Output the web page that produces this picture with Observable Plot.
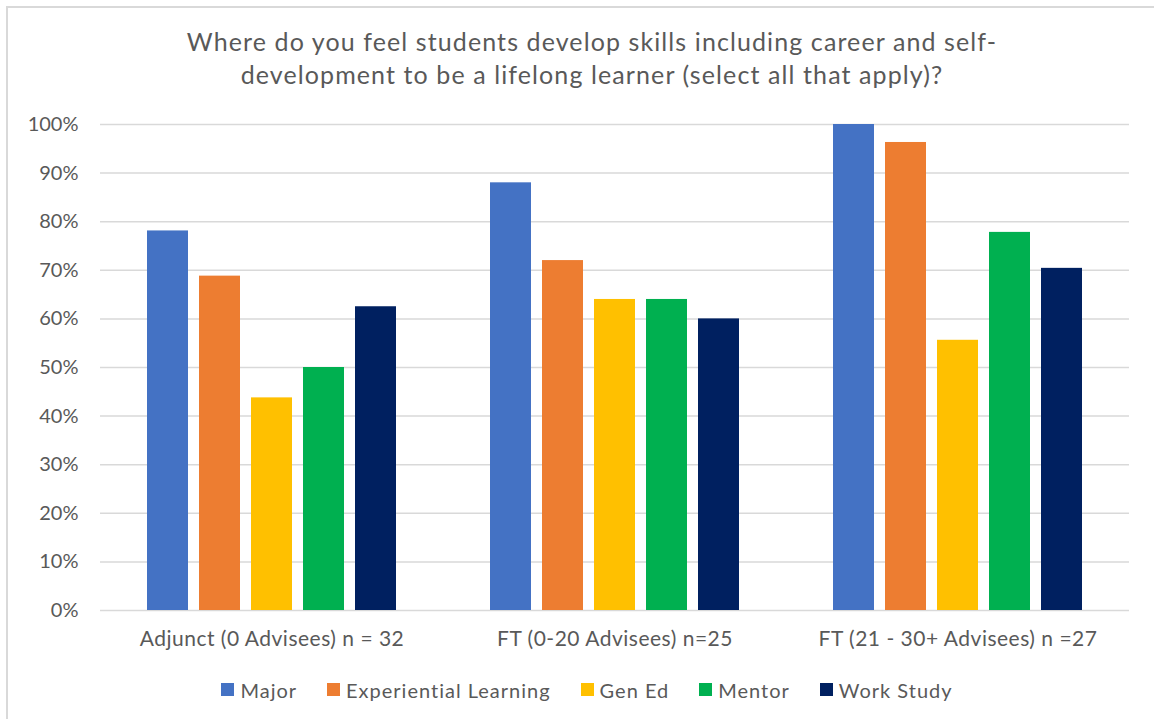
<!DOCTYPE html>
<html><head><meta charset="utf-8">
<script src="https://cdn.jsdelivr.net/npm/d3@7"></script>
<script src="https://cdn.jsdelivr.net/npm/@observablehq/plot@0.6"></script>
<style>
body{margin:0;background:#fff;font-family:Lato,"Open Sans",sans-serif;}
#wrap{position:relative;width:1154px;height:719px;overflow:hidden;background:#fff;}
#frame{position:absolute;left:6px;top:6px;width:1300px;height:900px;border-left:2px solid #d9d9d9;border-top:2px solid #d9d9d9;pointer-events:none;}
#title{height:100px;box-sizing:border-box;padding-top:25px;text-align:center;font-size:25px;letter-spacing:1.1px;line-height:33px;color:#595959;padding-left:30px;}
#chart{height:560px;}
#legend{height:59px;display:flex;justify-content:center;align-items:center;gap:30px;font-size:20px;letter-spacing:1px;color:#595959;margin-left:20px;box-sizing:border-box;}
.item{display:flex;align-items:center;}
.sw{width:13px;height:13px;margin-right:6px;}
#chart g[aria-label="fx-axis tick label"], #chart g[aria-label="fx-axis tick label"] text{font-size:21px;letter-spacing:0.5px;}
</style></head>
<body>
<div id="wrap">
<div id="title">Where do you feel students develop skills including career and self-<br>development to be a lifelong learner (select all that apply)?</div>
<div id="chart"></div>
<div id="legend"></div>
<div id="frame"></div>
</div>
<script>
const categories = ["Adjunct (0 Advisees) n = 32", "FT (0-20 Advisees) n=25", "FT (21 - 30+ Advisees) n =27"];
const series = ["Major", "Experiential Learning", "Gen Ed", "Mentor", "Work Study"];
const major = [0.781, 0.88, 1.0];
const experiential = [0.688, 0.72, 0.963];
const genEd = [0.4375, 0.64, 0.556];
const mentor = [0.50, 0.64, 0.778];
const workStudy = [0.625, 0.60, 0.704];
const colors = ["#4472C4", "#ED7D31", "#FFC000", "#00B050", "#002060"];
const yTicks = [0, 0.1, 0.2, 0.3, 0.4, 0.5, 0.6, 0.7, 0.8, 0.9, 1.0];

const seriesValues = [major, experiential, genEd, mentor, workStudy];
const data = [];
categories.forEach((c, i) => {
  series.forEach((s, j) => data.push({group: c, series: s, value: seriesValues[j][i]}));
});

const plot = Plot.plot({
  width: 1154,
  height: 560,
  marginTop: 24,
  marginBottom: 50,
  marginLeft: 100,
  marginRight: 25,
  style: {fontFamily: "Lato, 'Open Sans', sans-serif", fontSize: "20px", color: "#595959", background: "#fff"},
  fx: {domain: categories, padding: 0, label: null},
  x: {domain: series, paddingInner: 0.21, paddingOuter: 0.871, axis: null},
  y: {domain: [0, 1], ticks: yTicks, tickFormat: d3.format(".0%"), label: null},
  color: {domain: series, range: colors},
  marks: [
    Plot.gridY(yTicks, {stroke: "#d9d9d9", strokeOpacity: 1, strokeWidth: 1.5}),
    Plot.barY(data, {fx: "group", x: "series", y: "value", fill: "series"}),
    Plot.axisY({ticks: yTicks, tickFormat: d3.format(".0%"), tickSize: 0, tickPadding: 22, label: null, fill: "#595959"}),
    Plot.axisFx({anchor: "bottom", tickSize: 0, tickPadding: 21, label: null, fill: "#595959", fontSize: 21})
  ]
});
document.getElementById("chart").appendChild(plot);

const legend = d3.select("#legend");
series.forEach((s, i) => {
  const it = legend.append("div").attr("class", "item");
  it.append("div").attr("class", "sw").style("background", colors[i]);
  it.append("span").text(s);
});
</script>
</body></html>
